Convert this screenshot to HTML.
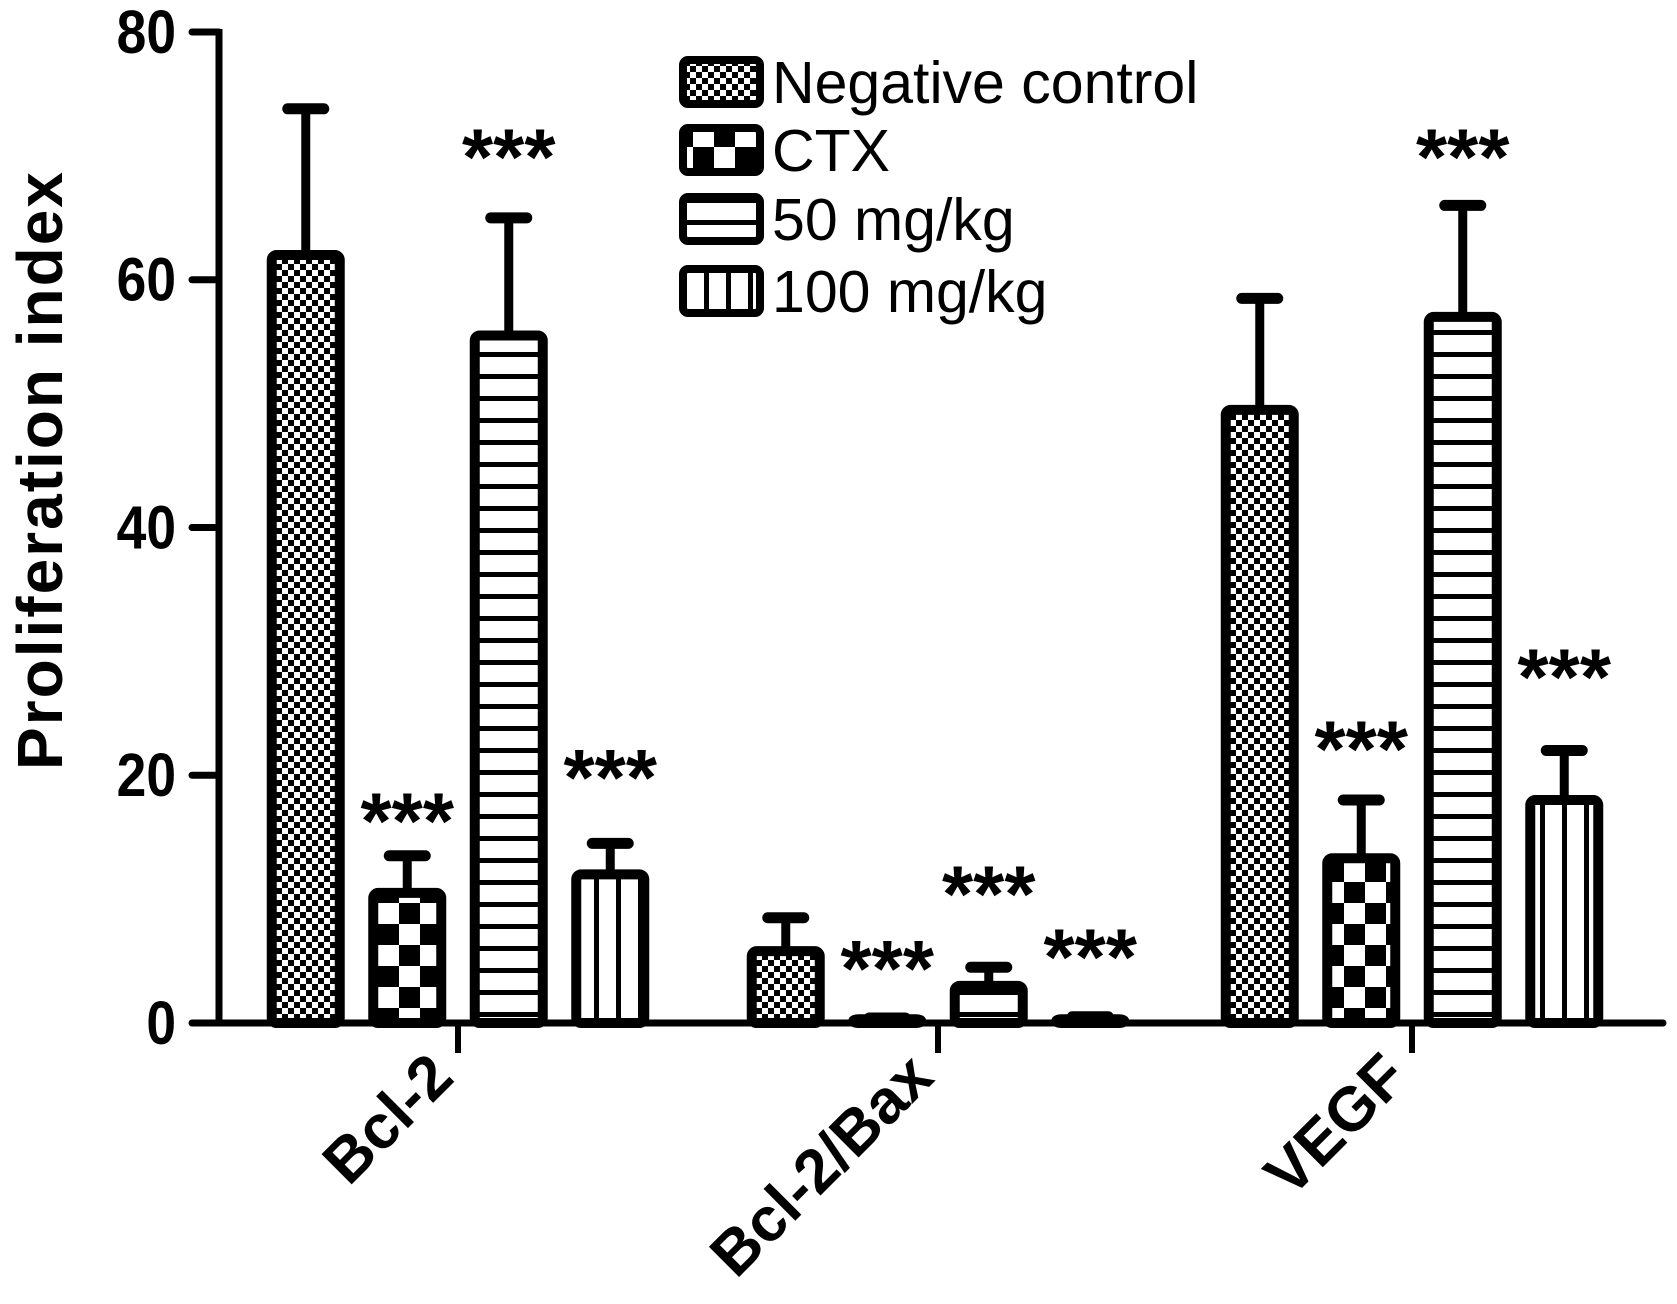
<!DOCTYPE html>
<html><head><meta charset="utf-8"><style>
body{margin:0;background:#fff}
svg{display:block}
text{font-family:"Liberation Sans",Arial,sans-serif}
</style></head><body>
<svg id="chart" width="1677" height="1304" viewBox="0 0 1677 1304" xmlns="http://www.w3.org/2000/svg">
<defs>
<pattern id="pNC" width="12" height="12" patternUnits="userSpaceOnUse"><rect width="12" height="12" fill="#fff"/><rect width="6" height="6" fill="#000"/><rect x="6" y="6" width="6" height="6" fill="#000"/></pattern>
<pattern id="pCTX" width="42" height="42" patternUnits="userSpaceOnUse"><rect width="42" height="42" fill="#fff"/><rect width="21" height="21" fill="#000"/><rect x="21" y="21" width="21" height="21" fill="#000"/></pattern>
<pattern id="p50" width="20" height="22" patternUnits="userSpaceOnUse"><rect width="20" height="22" fill="#fff"/><rect y="0" width="20" height="5" fill="#000"/></pattern>
<pattern id="p100" width="22" height="20" patternUnits="userSpaceOnUse"><rect width="22" height="20" fill="#fff"/><rect x="0" width="5" height="20" fill="#000"/></pattern>
</defs>
<g id="plot"></g>
</svg>
<script>
const categories = ["Bcl-2", "Bcl-2/Bax", "VEGF"];
const seriesNames = ["Negative control", "CTX", "50 mg/kg", "100 mg/kg"];
const negControl = [62, 5.8, 49.5];
const negControlErr = [11.8, 2.7, 9];
const ctx = [10.5, 0.3, 13.3];
const ctxErr = [3, 0.1, 4.7];
const dose50 = [55.5, 3, 57];
const dose50Err = [9.5, 1.5, 9];
const dose100 = [12, 0.3, 18];
const dose100Err = [2.5, 0.2, 4];
const starLevels = [[null, 17, 70.6, 20.5], [null, 5.1, 11.1, 6.0], [null, 22.8, 70.6, 28.6]];
const yTicks = [0, 20, 40, 60, 80];

const NS = "http://www.w3.org/2000/svg";
const g = document.getElementById("plot");
const y0 = 1023, yTop = 32, yMax = 80;
function yScale(v){ return y0 - v * (y0 - yTop) / yMax; }
const groupX = [458, 938, 1412];
function xScale(ci, si){ return groupX[ci] + (si - 1.5) * 101.5; }
function el(tag, attrs, parent){ const e = document.createElementNS(NS, tag); for (const a in attrs) e.setAttribute(a, attrs[a]); (parent||g).appendChild(e); return e; }

const vals = [negControl, ctx, dose50, dose100];
const errs = [negControlErr, ctxErr, dose50Err, dose100Err];
const fills = ["url(#pNC)", "url(#pCTX)", "url(#p50)", "url(#p100)"];
const bw = 68;

for (let ci = 0; ci < categories.length; ci++) {
  for (let si = 0; si < 4; si++) {
    const cx = xScale(ci, si), v = vals[si][ci], e = errs[si][ci];
    const yt = yScale(v), ye = yScale(v + e);
    const eb = el("line", {x1: cx, x2: cx, y1: ye, y2: yt, stroke: "#000", "stroke-width": 9});
    
    
    const cap = el("line", {x1: cx - 18, x2: cx + 18, y1: ye, y2: ye, stroke: "#000", "stroke-width": 11, "stroke-linecap": "round"});
    
    
    const r = el("rect", {x: cx - bw/2, y: yt, width: bw, height: Math.max(y0 - yt, 1), fill: fills[si], stroke: "#000", "stroke-width": 10, rx: 5});
    
    
    const s = starLevels[ci][si];
    if (s !== null) {
      const t = el("text", {x: cx, y: yScale(s) + 36, "font-size": 80, "text-anchor": "middle", "font-weight": "bold"});
      t.textContent = "***";
      
      
    }
  }
}

const ya = el("line", {x1: 219, x2: 219, y1: yTop - 3, y2: y0 + 3, stroke: "#000", "stroke-width": 7});


const xa = el("line", {x1: 216, x2: 1663, y1: y0, y2: y0, stroke: "#000", "stroke-width": 7, "stroke-linecap": "round"});


yTicks.forEach(v => {
  const y = yScale(v);
  const tl = el("line", {x1: 192, x2: 219, y1: y, y2: y, stroke: "#000", "stroke-width": 7, "stroke-linecap": "round"});
  
  
  const tt = el("text", {x: 176, y: y + 21, "font-size": 58, "font-weight": "bold", "text-anchor": "end", transform: "translate(176," + (y+21) + ") scale(0.92,1.05) translate(-176," + (-(y+21)) + ")"});
  tt.textContent = v;
  
  
});
categories.forEach((c, ci) => {
  const x = groupX[ci];
  const tl = el("line", {x1: x, x2: x, y1: y0, y2: 1053, stroke: "#000", "stroke-width": 6});
  
  
  const t = el("text", {x: x - 2, y: 1080, "font-size": 62, "font-weight": "bold", "text-anchor": "end", transform: "rotate(-45 " + (x - 2) + " 1080)"});
  t.textContent = c;
  
  
});
const yl = el("text", {x: 0, y: 0, "font-size": 64, "font-weight": "bold", "text-anchor": "middle", "letter-spacing": "2", transform: "translate(62,470) rotate(-90)"});
yl.textContent = "Proliferation index";



const legY = [82, 150, 219, 291];
seriesNames.forEach((n, i) => {
  const lg = el("g", {});
  
  
  el("rect", {x: 683, y: legY[i] - 22, width: 77, height: 44, fill: fills[i], stroke: "#000", "stroke-width": 8, rx: 5}, lg);
  const t = el("text", {x: 772, y: legY[i] + 21, "font-size": 59}, lg);
  t.textContent = n;
});
</script>
</body></html>
